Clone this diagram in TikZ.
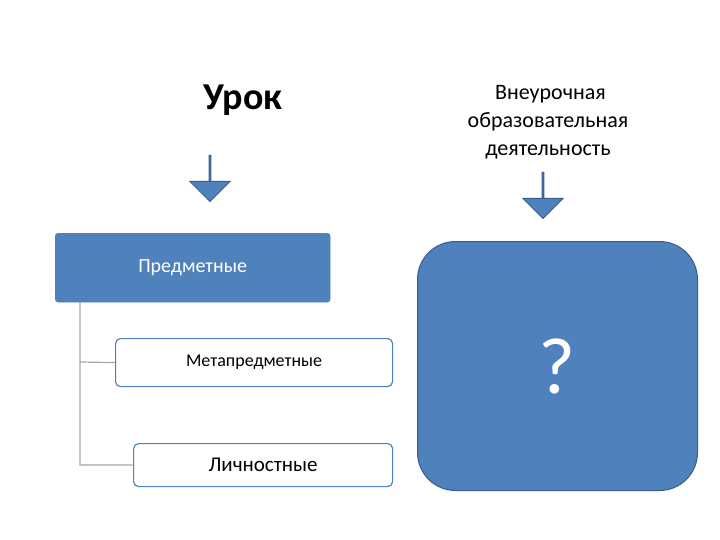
\documentclass[tikz,border=0pt]{standalone}
\usepackage{fontspec}
\setmainfont{Carlito}
\usetikzlibrary{shapes.arrows}
\definecolor{blu}{HTML}{4F81BD}
\definecolor{bld}{HTML}{385D8A}
\begin{document}
\begin{tikzpicture}[x=1pt,y=-1pt,
  darr/.style={single arrow,shape border rotate=270,fill=blu,draw=bld,line width=1pt,minimum width=40pt,minimum height=46pt,single arrow head extend=10pt,inner sep=0pt,single arrow tip angle=90},
  wbox/.style={draw=blu,line width=1.2pt,fill=white,rounded corners=5pt,anchor=north west,inner sep=0pt,font=\fontsize{18}{20}\selectfont}]
\useasboundingbox (0,0) rectangle (720,540);
\node[font=\bfseries\fontsize{38}{40}\selectfont] (urok) at (243,100) {Урок};
\node[align=center,font=\fontsize{22}{28}\selectfont] (vn) at (548,122) {\ Внеурочная\\образовательная\\деятельность};
\node[darr] (a1) at (210,178) {};
\node[darr] (a2) at (543,195) {};
\node[anchor=north west,fill=blu,draw=blu,rounded corners=3pt,minimum width=275pt,minimum height=69pt,inner sep=0pt,text=white,font=\fontsize{20}{22}\selectfont] (p) at (55,233) {Предметные};
\node[wbox,minimum width=277pt,minimum height=48pt] (m) at (115,338) {Метапредметные};
\node[wbox,minimum width=259pt,minimum height=43pt,font=\fontsize{21}{22}\selectfont] (l) at (133,443) {Личностные};
\draw[gray!70,line width=1.2pt] (80,302) -- (80,465) -- (l.west);
\draw[gray!70,line width=1.2pt] (80,362) -- (m.west);
\node[anchor=north west,fill=blu,draw=bld,line width=1pt,rounded corners=38pt,minimum width=280pt,minimum height=249pt,inner sep=0pt,text=white,font=\fontsize{80}{80}\selectfont] (q) at (417,241) {?};
\end{tikzpicture}
\end{document}
